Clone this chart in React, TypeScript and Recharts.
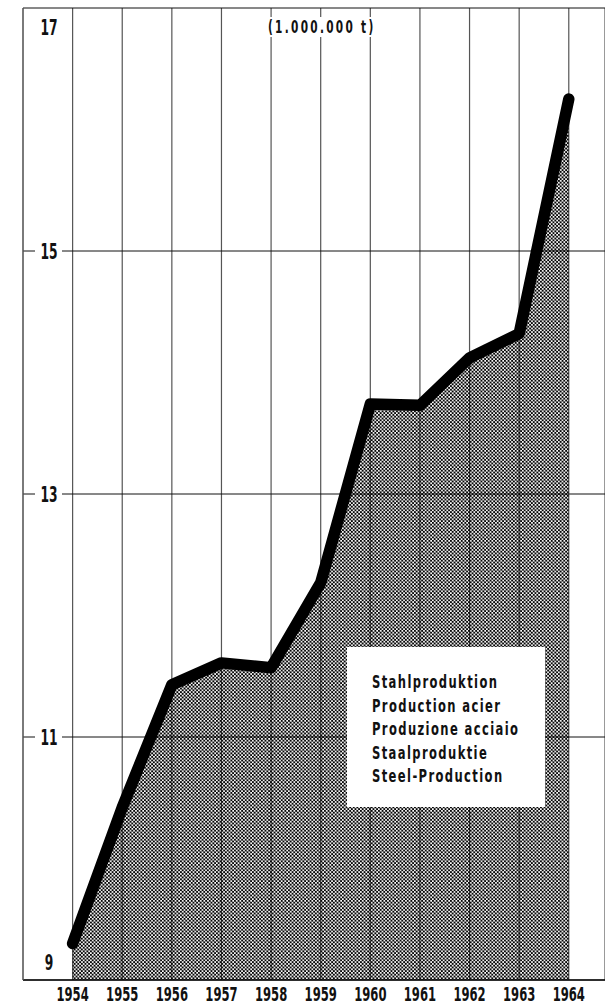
import {
  ComposedChart,
  Area,
  Line,
  XAxis,
  YAxis,
  CartesianGrid,
} from 'recharts';

const YEARS = [1954, 1955, 1956, 1957, 1958, 1959, 1960, 1961, 1962, 1963, 1964];
const STEEL = [9.3, 10.42, 11.43, 11.61, 11.57, 12.27, 13.74, 13.73, 14.12, 14.32, 16.25];
const Y_TICKS = [9, 11, 13, 15, 17];
const UNIT = '(1.000.000 t)';
const LEGEND_LINES = [
  'Stahlproduktion',
  'Production acier',
  'Produzione acciaio',
  'Staalproduktie',
  'Steel-Production',
];

// no condensed face installed, so squeeze DejaVu Sans Bold horizontally
const FONT = '"DejaVu Sans", sans-serif';

const data = YEARS.map((year, i) => ({ year, v: STEEL[i] }));

function YTick({ y, payload }: any) {
  const v = payload.value;
  // end labels sit inside the frame, not on the border line
  const dy = v === 17 ? 19 : v === 9 ? -18 : 0;
  return (
    <g>
      {v !== 17 && v !== 9 && <rect x={35} y={y - 10} width={27} height={20} fill="#fff" />}
      <text
        transform={`translate(49,${y + dy + 7.5}) scale(0.6,1)`}
        textAnchor="middle"
        fontFamily={FONT}
        fontWeight="bold"
        fontSize={20.5}
        fill="#111"
      >
        {v}
      </text>
    </g>
  );
}

function XTick({ x, payload, index }: any) {
  return (
    <text
      key={index}
      transform={`translate(${x},1001) scale(0.58,1)`}
      textAnchor="middle"
      fontFamily={FONT}
      fontWeight="bold"
      fontSize={20}
      fill="#111"
    >
      {payload.value}
    </text>
  );
}

export default function App() {
  return (
    <div style={{ position: 'absolute', left: 0, top: 0, width: 605, height: 1005, background: '#fff' }}>
      <ComposedChart
        width={605}
        height={1005}
        data={data}
        margin={{ top: 8, right: 0, bottom: 0, left: 23 }}
      >
        <defs>
          <pattern id="halftone" width="3.6" height="3.6" patternUnits="userSpaceOnUse">
            <circle cx="0.9" cy="0.9" r="1.1" fill="#000" />
            <circle cx="2.7" cy="2.7" r="1.1" fill="#000" />
          </pattern>
        </defs>
        <CartesianGrid horizontal={false} stroke="#555" strokeWidth={1.2} />
        <CartesianGrid vertical={false} stroke="#111" strokeWidth={1} />
        <XAxis
          dataKey="year"
          type="number"
          domain={[1953, 1964.73]}
          ticks={YEARS}
          allowDataOverflow
          height={25}
          axisLine={{ stroke: '#111', strokeWidth: 1.5 }}
          tickLine={false}
          tick={<XTick />}
        />
        <YAxis
          type="number"
          domain={[9, 17]}
          ticks={Y_TICKS}
          interval={0}
          mirror
          width={1}
          axisLine={{ stroke: '#666', strokeWidth: 1.2 }}
          tickLine={false}
          tick={<YTick />}
        />
        <Area
          type="linear"
          dataKey="v"
          stroke="none"
          fill="url(#halftone)"
          fillOpacity={1}
          baseValue={9}
          isAnimationActive={false}
        />
        <Line
          type="linear"
          dataKey="v"
          stroke="#000"
          strokeWidth={11.5}
          strokeLinecap="round"
          strokeLinejoin="round"
          dot={false}
          activeDot={false}
          isAnimationActive={false}
        />
      </ComposedChart>
      <div
        style={{
          position: 'absolute',
          left: 266,
          top: 17,
          background: '#fff',
          padding: '0 2px',
          width: 111,
          height: 20,
          boxSizing: 'border-box',
        }}
      >
        <div
          style={{
            fontFamily: FONT,
            fontWeight: 'bold',
            fontSize: 17,
            letterSpacing: 3.7,
            lineHeight: '20px',
            color: '#111',
            whiteSpace: 'nowrap',
            transform: 'scaleX(0.62)',
            transformOrigin: 'left top',
          }}
        >
          {UNIT}
        </div>
      </div>
      <div
        style={{
          position: 'absolute',
          left: 347,
          top: 647,
          width: 198,
          height: 160,
          background: '#fff',
        }}
      >
        <div
          style={{
            position: 'absolute',
            left: 25,
            top: 24,
            fontFamily: FONT,
            fontWeight: 'bold',
            fontSize: 17.5,
            letterSpacing: 2.1,
            lineHeight: '23.5px',
            color: '#111',
            whiteSpace: 'nowrap',
            transform: 'scaleX(0.66)',
            transformOrigin: 'left top',
          }}
        >
          {LEGEND_LINES.map((t) => (
            <div key={t}>{t}</div>
          ))}
        </div>
      </div>
    </div>
  );
}
